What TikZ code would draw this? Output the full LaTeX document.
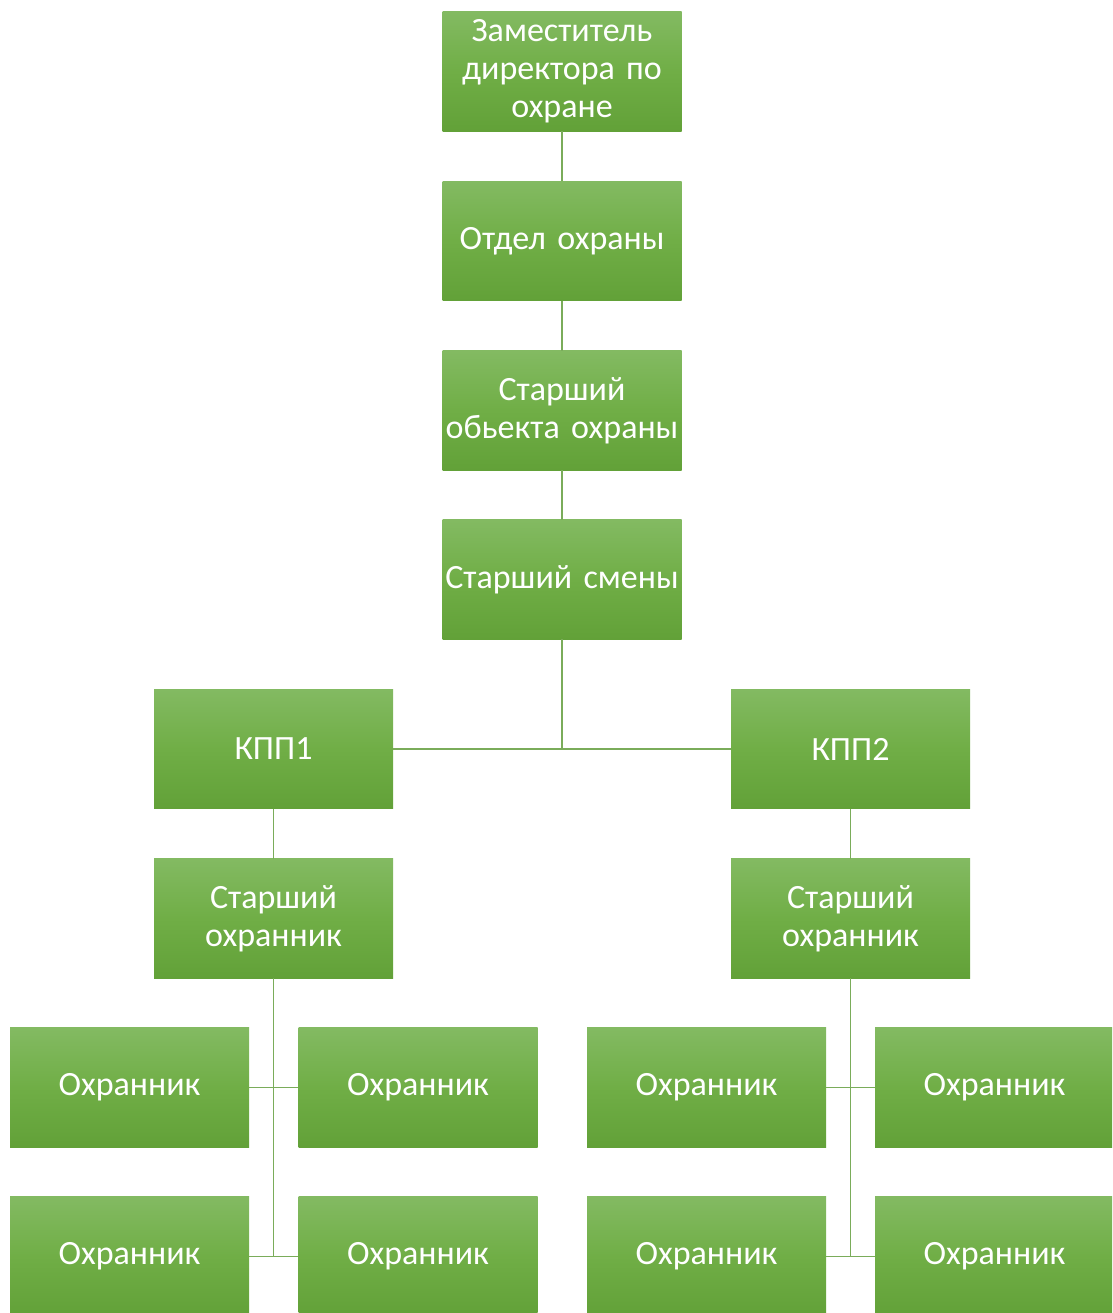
\documentclass[tikz,border=0pt]{standalone}
\usepackage{fontspec}
\setmainfont{Carlito}
\definecolor{gtop}{RGB}{131,186,98}
\definecolor{gmid}{RGB}{112,174,70}
\definecolor{gbot}{RGB}{98,161,56}
\definecolor{lnc}{RGB}{122,172,90}
\tikzset{
  box/.style={rectangle, minimum width=239pt, minimum height=119.5pt, inner sep=0pt,
    top color=gtop, bottom color=gbot, middle color=gmid, shading=axis,
    text=white, align=center, font=\fontsize{34}{38}\selectfont, text width=239pt},
  conn/.style={draw=lnc, line width=1.3pt}
}
\begin{document}
\begin{tikzpicture}[x=1pt,y=-1pt]
\useasboundingbox (0,0) rectangle (1112,1313);
\clip (0,0) rectangle (1112,1313);
\node[box] (zam) at (562,71.5) {Заместитель\\директора по\\охране};
\node[box] (otd) at (562,241) {Отдел охраны};
\node[box] (sto) at (562,410.5) {Старший\\обьекта охраны};
\node[box] (sts) at (562,579.5) {Старший смены};
\node[box] (kpp1) at (273.5,749) {КПП1};
\node[box] (kpp2) at (850.5,749) {КПП2};
\node[box] (so1) at (273.5,918.5) {Старший\\охранник};
\node[box] (so2) at (850.5,918.5) {Старший\\охранник};
\node[box] (o1) at (129.5,1087.5) {Охранник};
\node[box] (o2) at (418,1087.5) {Охранник};
\node[box] (o3) at (129.5,1256.5) {Охранник};
\node[box] (o4) at (418,1256.5) {Охранник};
\node[box] (o5) at (706.5,1087.5) {Охранник};
\node[box] (o6) at (994.5,1087.5) {Охранник};
\node[box] (o7) at (706.5,1256.5) {Охранник};
\node[box] (o8) at (994.5,1256.5) {Охранник};
\draw[conn] (zam.south) -- (otd.north);
\draw[conn] (otd.south) -- (sto.north);
\draw[conn] (sto.south) -- (sts.north);
\coordinate (hub) at (sts.south |- kpp1.east);
\draw[conn] (sts.south) -- (hub);
\draw[conn] (hub) -- (kpp1.east);
\draw[conn] (hub) -- (kpp2.west);
\draw[conn] (kpp1.south) -- (so1.north);
\draw[conn] (kpp2.south) -- (so2.north);
\coordinate (l1) at (so1.south |- o3.west);
\coordinate (r1) at (so2.south |- o7.east);
\draw[conn] (so1.south) -- (l1);
\draw[conn] (so2.south) -- (r1);
\draw[conn] (o1.east) -- (o2.west);
\draw[conn] (o3.east) -- (o4.west);
\draw[conn] (o5.east) -- (o6.west);
\draw[conn] (o7.east) -- (o8.west);
\end{tikzpicture}
\end{document}
